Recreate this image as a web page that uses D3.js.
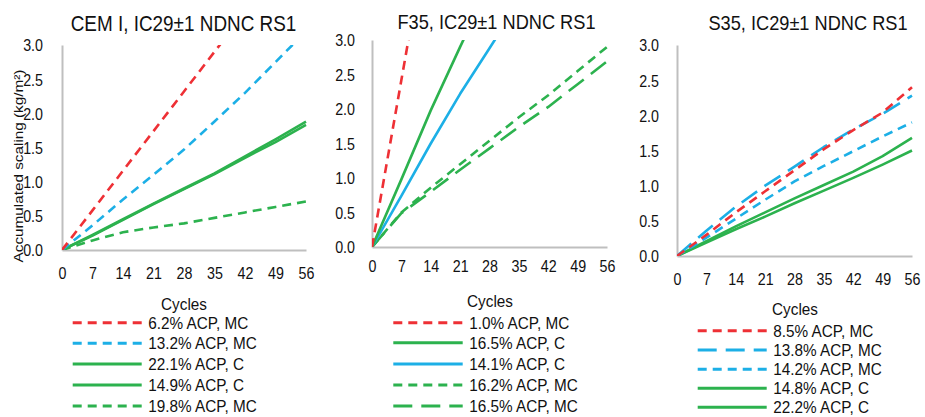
<!DOCTYPE html>
<html>
<head>
<meta charset="utf-8">
<script src="https://cdn.jsdelivr.net/npm/d3@7"></script>
<style>
  html, body { margin: 0; padding: 0; background: #ffffff; }
  svg { display: block; font-family: "Liberation Sans", Arial, sans-serif; }
  text { fill: #111111; }
</style>
</head>
<body>
<svg id="chart" width="925" height="417"></svg>
<script>
// ---------- data ----------
const cycles = [0, 7, 14, 21, 28, 35, 42, 49, 56];
const xTickLabels = [0, 7, 14, 21, 28, 35, 42, 49, 56];
const yTickLabels = [0, 0.5, 1.0, 1.5, 2.0, 2.5, 3.0];

const titles = ["CEM I, IC29\u00b11 NDNC RS1", "F35, IC29\u00b11 NDNC RS1", "S35, IC29\u00b11 NDNC RS1"];
const xTitle = "Cycles";
const yTitle = "Accumulated scaling (kg/m\u00b2)";

// CEM I
const cemLabels = ["6.2% ACP, MC", "13.2% ACP, MC", "22.1% ACP, C", "14.9% ACP, C", "19.8% ACP, MC"];
const cem_6_2_MC  = [0, 0.58, 1.16, 1.74, 2.32, 2.90, 3.48];
const cem_13_2_MC = [0, 0.36, 0.74, 1.10, 1.47, 1.88, 2.30, 2.75, 3.20];
const cem_22_1_C  = [0, 0.22, 0.45, 0.68, 0.90, 1.12, 1.37, 1.62, 1.88];
const cem_14_9_C  = [0, 0.21, 0.44, 0.67, 0.89, 1.11, 1.35, 1.58, 1.83];
const cem_19_8_MC = [0, 0.14, 0.26, 0.33, 0.39, 0.47, 0.55, 0.63, 0.71];

// F35
const f35Labels = ["1.0% ACP, MC", "16.5% ACP, C", "14.1% ACP, C", "16.2% ACP, MC", "16.5% ACP, MC"];
const f35_1_0_MC  = [0, 2.42, 4.84];
const f35_16_5_C  = [0, 0.98, 1.98, 2.90, 3.80];
const f35_14_1_C  = [0, 0.74, 1.50, 2.22, 2.88, 3.55];
const f35_16_2_MC = [0, 0.50, 0.86, 1.20, 1.54, 1.88, 2.20, 2.55, 2.90];
const f35_16_5_MC = [0, 0.49, 0.80, 1.12, 1.43, 1.74, 2.03, 2.36, 2.69];

// S35
const s35Labels = ["8.5% ACP, MC", "13.8% ACP, MC", "14.2% ACP, MC", "14.8% ACP, C", "22.2% ACP, C"];
const s35_8_5_MC  = [0, 0.30, 0.62, 0.92, 1.22, 1.52, 1.79, 2.04, 2.40];
const s35_13_8_MC = [0, 0.36, 0.70, 1.00, 1.27, 1.55, 1.80, 2.02, 2.28];
const s35_14_2_MC = [0, 0.26, 0.53, 0.80, 1.06, 1.28, 1.49, 1.70, 1.90];
const s35_14_8_C  = [0, 0.21, 0.42, 0.62, 0.82, 1.01, 1.20, 1.42, 1.68];
const s35_22_2_C  = [0, 0.19, 0.38, 0.56, 0.75, 0.93, 1.11, 1.30, 1.50];

// ---------- styles ----------
const RED = "#ee3035", BLUE = "#1cafe6", GREEN = "#2cb24e";
const DASH = {solid: null, dash: "9,6", long: "19,9"};

const panels = [
  {
    title: titles[0], titleX: 183.5, titleY: 31, titleSize: 22, titleSx: 0.86,
    x0: 62, x1: 306, yBottom: 250, yTop: 45,
    xLabelY: 29, yLabelGap: 19, cyclesY: 309.5, cyclesX: 184,
    legX0: 72.7, legX1: 141.7, legTextX: 148.3, legY: [322.7, 343.3, 364, 385, 406],
    series: [
      {label: cemLabels[0], values: cem_6_2_MC,  color: RED,   dash: "dash"},
      {label: cemLabels[1], values: cem_13_2_MC, color: BLUE,  dash: "dash"},
      {label: cemLabels[2], values: cem_22_1_C,  color: GREEN, dash: "solid"},
      {label: cemLabels[3], values: cem_14_9_C,  color: GREEN, dash: "solid"},
      {label: cemLabels[4], values: cem_19_8_MC, color: GREEN, dash: "dash"}
    ],
    yAxisTitle: true
  },
  {
    title: titles[1], titleX: 496.5, titleY: 28.5, titleSize: 20, titleSx: 0.91,
    x0: 372, x1: 607, yBottom: 247, yTop: 40,
    xLabelY: 25, yLabelGap: 17, cyclesY: 306.5, cyclesX: 490,
    legX0: 393.3, legX1: 462.7, legTextX: 469.3, legY: [322.7, 342.7, 364, 385, 406],
    series: [
      {label: f35Labels[0], values: f35_1_0_MC,  color: RED,   dash: "dash"},
      {label: f35Labels[1], values: f35_16_5_C,  color: GREEN, dash: "solid"},
      {label: f35Labels[2], values: f35_14_1_C,  color: BLUE,  dash: "solid"},
      {label: f35Labels[3], values: f35_16_2_MC, color: GREEN, dash: "dash"},
      {label: f35Labels[4], values: f35_16_5_MC, color: GREEN, dash: "long"}
    ],
    yAxisTitle: false
  },
  {
    title: titles[2], titleX: 808, titleY: 30, titleSize: 20, titleSx: 0.91,
    x0: 677, x1: 912, yBottom: 256, yTop: 45,
    xLabelY: 29, yLabelGap: 18, cyclesY: 315, cyclesX: 795,
    legX0: 697.7, legX1: 766.7, legTextX: 773.3, legY: [330.7, 350, 369.3, 388.3, 407.3],
    series: [
      {label: s35Labels[0], values: s35_8_5_MC,  color: RED,   dash: "dash"},
      {label: s35Labels[1], values: s35_13_8_MC, color: BLUE,  dash: "long"},
      {label: s35Labels[2], values: s35_14_2_MC, color: BLUE,  dash: "dash"},
      {label: s35Labels[3], values: s35_14_8_C,  color: GREEN, dash: "solid"},
      {label: s35Labels[4], values: s35_22_2_C,  color: GREEN, dash: "solid"}
    ],
    yAxisTitle: false
  }
];

const svg = d3.select("#chart");
const defs = svg.append("defs");
const TICK_SIZE = 17, TICK_SX = 0.84;
const LEG_SIZE = 17, LEG_SX = 0.9;

function ctext(g, x, y, str, size, sx, anchor) {
  return g.append("text")
    .attr("transform", `translate(${x},${y}) scale(${sx},1)`)
    .attr("text-anchor", anchor)
    .style("font-size", size + "px")
    .text(str);
}

panels.forEach((p, i) => {
  const g = svg.append("g");
  const x = d3.scaleLinear().domain([0, 56]).range([p.x0, p.x1]);
  const y = d3.scaleLinear().domain([0, 3]).range([p.yBottom, p.yTop]);

  // title
  ctext(g, p.titleX, p.titleY, p.title, p.titleSize, p.titleSx, "middle");

  // y axis
  const ya = g.append("g").attr("transform", `translate(${p.x0},0)`)
    .call(d3.axisLeft(y).tickValues(yTickLabels).tickFormat(d3.format(".1f")).tickSize(0).tickSizeOuter(0));
  ya.select(".domain").attr("stroke", "#bfbfbf").attr("stroke-width", 2);
  ya.selectAll(".tick text")
    .attr("x", 0).attr("dy", "0.35em")
    .attr("transform", `translate(${-p.yLabelGap},0) scale(${TICK_SX},1)`)
    .attr("fill", "#111111")
    .style("font-family", "'Liberation Sans', Arial, sans-serif")
    .style("font-size", TICK_SIZE + "px");

  // x axis
  const xa = g.append("g").attr("transform", `translate(0,${p.yBottom})`)
    .call(d3.axisBottom(x).tickValues(xTickLabels).tickFormat(d3.format("d")).tickSize(0).tickSizeOuter(0));
  xa.select(".domain").attr("stroke", "#bfbfbf").attr("stroke-width", 2);
  xa.selectAll(".tick text")
    .attr("y", 0).attr("dy", null)
    .attr("transform", `translate(0,${p.xLabelY}) scale(${TICK_SX},1)`)
    .attr("fill", "#111111")
    .style("font-family", "'Liberation Sans', Arial, sans-serif")
    .style("font-size", TICK_SIZE + "px");

  // clip
  const cid = "clip" + i;
  defs.append("clipPath").attr("id", cid).append("rect")
    .attr("x", p.x0).attr("y", p.yTop).attr("width", p.x1 - p.x0 + 4).attr("height", p.yBottom - p.yTop);

  const line = d3.line()
    .defined(d => d[1] != null)
    .x(d => x(d[0])).y(d => y(d[1]));

  const lg = g.append("g").attr("clip-path", `url(#${cid})`);
  p.series.slice().reverse().forEach(s => {
    const pts = s.values.map((v, k) => [cycles[k], v]);
    lg.append("path")
      .attr("d", line(pts))
      .attr("fill", "none")
      .attr("stroke", s.color)
      .attr("stroke-width", 2.6)
      .attr("stroke-dasharray", DASH[s.dash])
      .attr("stroke-linejoin", "round");
  });

  // x title
  ctext(g, p.cyclesX, p.cyclesY, xTitle, LEG_SIZE, LEG_SX, "middle");

  // legend
  p.series.forEach((s, k) => {
    const ly = p.legY[k];
    g.append("line")
      .attr("x1", p.legX0).attr("x2", p.legX1)
      .attr("y1", ly).attr("y2", ly)
      .attr("stroke", s.color).attr("stroke-width", 3)
      .attr("stroke-dasharray", DASH[s.dash]);
    ctext(g, p.legTextX, ly + 6, s.label, LEG_SIZE, LEG_SX, "start");
  });

  if (p.yAxisTitle) {
    g.append("text")
      .attr("transform", `translate(22.5,166) rotate(-90) scale(1,0.85)`)
      .attr("text-anchor", "middle")
      .style("font-size", "15.3px")
      .text(yTitle);
  }
});
</script>
</body>
</html>
